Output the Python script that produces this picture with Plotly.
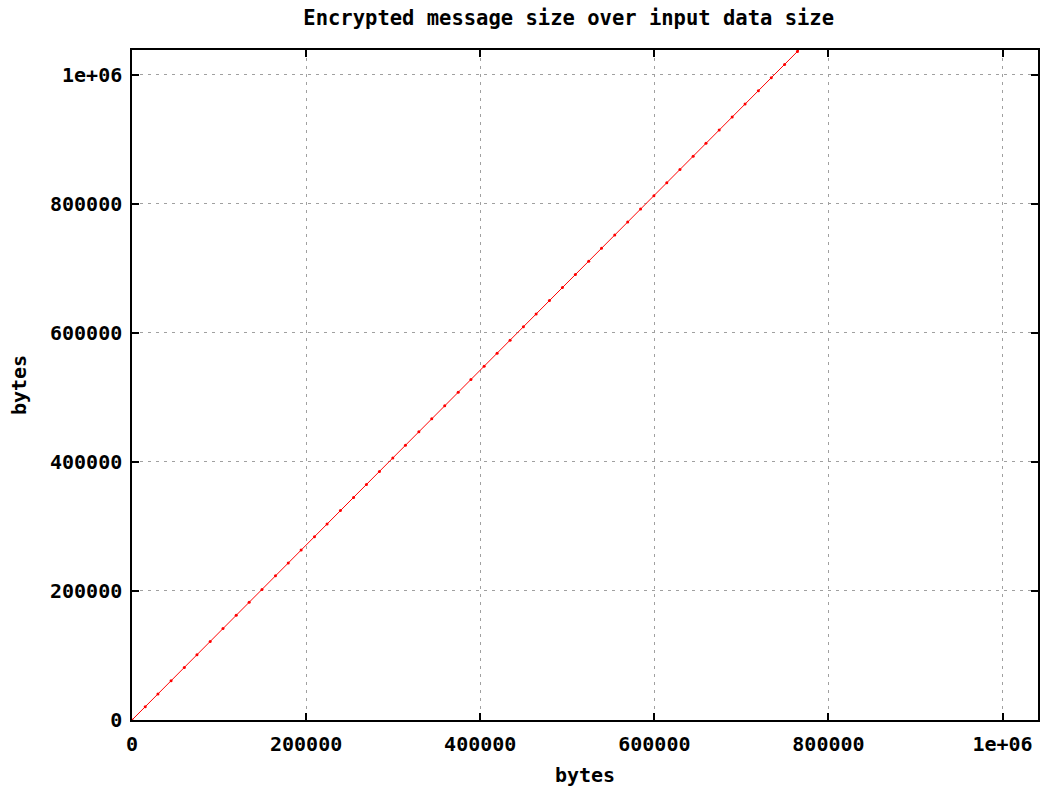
import plotly.graph_objects as go

# input data size (bytes)
input_bytes = [0, 15200, 29800, 44900, 60100, 74600, 89800, 104500, 119700, 134600,
               149300, 164800, 179500, 194300, 209600, 224100, 239400, 254500, 269300,
               284200, 299600, 314100, 329500, 344300, 359200, 374700, 389300, 404500,
               419400, 434300, 449600, 464200, 479500, 494400, 509300, 524600, 539300,
               554500, 569400, 584200, 599500, 614300, 629400, 644600, 659300, 674500,
               689400, 704200, 719500, 734300, 749600, 764400, 779500]
# encrypted message size (bytes)
encrypted_bytes = [0, 20600, 40380, 60840, 81440, 101080, 121680, 141600, 162190, 182380,
                   202300, 223300, 243220, 263280, 284010, 303660, 324390, 344850, 364900,
                   385090, 405960, 425610, 446470, 466530, 486720, 507720, 527500, 548100,
                   568290, 588480, 609210, 628990, 649720, 669910, 690100, 710830, 730750,
                   751350, 771540, 791590, 812320, 832380, 852840, 873430, 893350, 913950,
                   934140, 954190, 974920, 994980, 1015710, 1035760, 1056220]

tick_vals = [0, 200000, 400000, 600000, 800000, 1000000]
tick_text = ["0", "200000", "400000", "600000", "800000", "1e+06"]

FONT = "DejaVu Sans Mono"
FS = 20

fig = go.Figure()
fig.add_trace(go.Scatter(
    x=input_bytes, y=encrypted_bytes, mode="lines+markers",
    line=dict(color="#ff0000", width=1),
    marker=dict(color="#ff0000", size=3),
    showlegend=False, cliponaxis=True,
))

axis_common = dict(
    showline=True, linecolor="black", linewidth=1.5, mirror="allticks",
    ticks="inside", ticklen=7, tickcolor="black", tickwidth=1.5,
    showgrid=True, gridcolor="#a0a0a0", gridwidth=1, griddash="3px,5px",
    zeroline=False,
    tickvals=tick_vals, ticktext=tick_text,
    tickfont=dict(family=FONT, size=FS, color="black", weight="bold"),
)

fig.update_layout(
    width=1046, height=789,
    margin=dict(l=132, r=6, t=50, b=68),
    plot_bgcolor="white", paper_bgcolor="white",
    title=dict(text="Encrypted message size over input data size",
               font=dict(family=FONT, size=20.5, color="black", weight="bold"),
               x=0.482, xanchor="center", xref="paper",
               y=1 - 18 / 789, yanchor="middle", yref="container"),
    xaxis=dict(range=[0, 1040700], ticklabelstandoff=5,
               title=dict(text="bytes", standoff=13,
                          font=dict(family=FONT, size=FS, color="black", weight="bold")),
               **axis_common),
    yaxis=dict(range=[0, 1038000], ticklabelstandoff=4,
               title=dict(text="bytes", standoff=18,
                          font=dict(family=FONT, size=FS, color="black", weight="bold")),
               **axis_common),
)

fig.write_html("out.html")
